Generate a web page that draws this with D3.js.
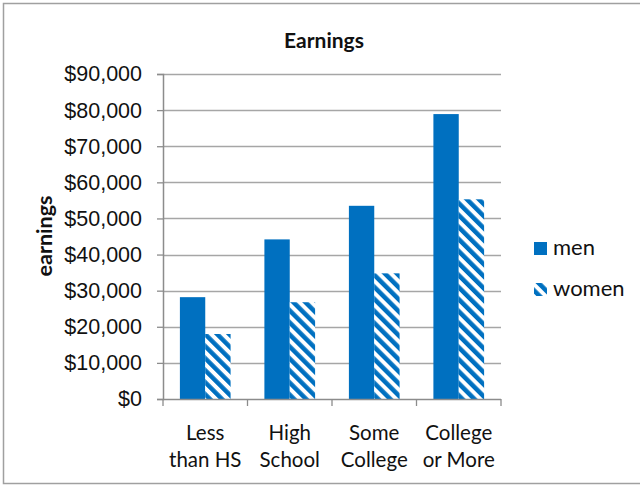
<!DOCTYPE html>
<html><head><meta charset="utf-8">
<script src="https://cdn.jsdelivr.net/npm/d3@7/dist/d3.min.js"></script>
<style>body{margin:0;background:#fff;}svg{display:block;font-family:Lato,"Open Sans",sans-serif;}</style>
</head><body>
<svg id="c" width="640" height="486"></svg>
<script>
const categories = [["Less","than HS"],["High","School"],["Some","College"],["College","or More"]];
const seriesNames = ["men","women"];
const men = [28200, 44200, 53500, 78900];
const women = [18000, 26800, 34800, 55300];
const yTicks = [0,10000,20000,30000,40000,50000,60000,70000,80000,90000];

(function(){
const svg = d3.select("#c");
const blue = "#0070C0";
const defs = svg.append("defs");
const pat = defs.append("pattern").attr("id","stripe").attr("patternUnits","userSpaceOnUse")
  .attr("width",8.5).attr("height",8.5).attr("patternTransform","rotate(-45)");
pat.append("rect").attr("width",8.5).attr("height",8.5).attr("fill","#fff");
pat.append("rect").attr("width",4.5).attr("height",8.5).attr("fill",blue);

svg.append("rect").attr("x",3.5).attr("y",3.5).attr("width",650).attr("height",480)
  .attr("fill","none").attr("stroke","#a0a0a0").attr("stroke-width",1.5);

const pL=163, pR=501, pT=74, pB=399;
const y = d3.scaleLinear().domain([0,90000]).range([pB,pT]);
const x0 = d3.scaleBand().domain(d3.range(categories.length)).range([pL,pR]).paddingInner(0.4).paddingOuter(0.2);
const x1 = d3.scaleBand().domain(seriesNames).range([0,x0.bandwidth()]);
const xc = d3.scaleBand().domain(d3.range(categories.length)).range([pL,pR]);

svg.append("g").selectAll("line").data(yTicks.slice(1)).join("line")
  .attr("x1",pL).attr("x2",pR).attr("y1",d=>Math.round(y(d))+0.5).attr("y2",d=>Math.round(y(d))+0.5)
  .attr("stroke","#a6a6a6").attr("stroke-width",1.3);

const yAxis = d3.axisLeft(y).tickValues(yTicks).tickSize(6).tickPadding(15)
  .tickFormat(d=>"$"+d3.format(",")(d));
const gy = svg.append("g").attr("transform",`translate(${pL},0)`).call(yAxis);
gy.select(".domain").attr("stroke","#8c8c8c").attr("stroke-width",1.5);
gy.selectAll(".tick line").attr("stroke","#8c8c8c").attr("stroke-width",1.3);
gy.selectAll("text").attr("font-size",21.5).attr("fill","#111");

const g = svg.append("g");
categories.forEach((c,i)=>{
  g.append("rect").attr("x",x0(i)+x1("men")).attr("width",x1.bandwidth())
    .attr("y",y(men[i])).attr("height",y(0)-y(men[i])).attr("fill",blue);
  g.append("rect").attr("x",x0(i)+x1("women")).attr("width",x1.bandwidth())
    .attr("y",y(women[i])).attr("height",y(0)-y(women[i])).attr("fill","url(#stripe)");
});

svg.append("line").attr("x1",pL).attr("x2",pR).attr("y1",pB+0.5).attr("y2",pB+0.5)
  .attr("stroke","#8c8c8c").attr("stroke-width",1.5);
const edges = d3.range(categories.length+1).map(i=> i<categories.length ? xc(i) : pR);
svg.append("g").selectAll("line").data(edges).join("line")
  .attr("x1",d=>d).attr("x2",d=>d).attr("y1",pB).attr("y2",pB+7)
  .attr("stroke","#8c8c8c").attr("stroke-width",1.3);
const lab = svg.append("g");
categories.forEach((c,i)=>{
  const cx = xc(i)+xc.bandwidth()/2;
  const t = lab.append("text").attr("text-anchor","middle").attr("font-size",20.5).attr("fill","#111");
  t.append("tspan").attr("x",cx).attr("y",440).text(c[0]);
  t.append("tspan").attr("x",cx).attr("y",467).text(c[1]);
});

svg.append("text").attr("x",324).attr("y",48).attr("text-anchor","middle")
  .attr("font-size",21).attr("font-weight","bold").attr("fill","#111").text("Earnings");
svg.append("text").attr("transform","translate(52,236) rotate(-90)").attr("text-anchor","middle")
  .attr("font-size",21.5).attr("font-weight","bold").attr("fill","#111").text("earnings");

const lg = svg.append("g");
lg.append("rect").attr("x",534).attr("y",242).attr("width",13).attr("height",13).attr("fill",blue);
lg.append("text").attr("x",553).attr("y",255).attr("font-size",22).attr("fill","#111").text(seriesNames[0]);
lg.append("rect").attr("x",534).attr("y",283).attr("width",13).attr("height",13).attr("fill","url(#stripe)");
lg.append("text").attr("x",553).attr("y",296).attr("font-size",22).attr("fill","#111").text(seriesNames[1]);
})();
</script>
</body></html>
